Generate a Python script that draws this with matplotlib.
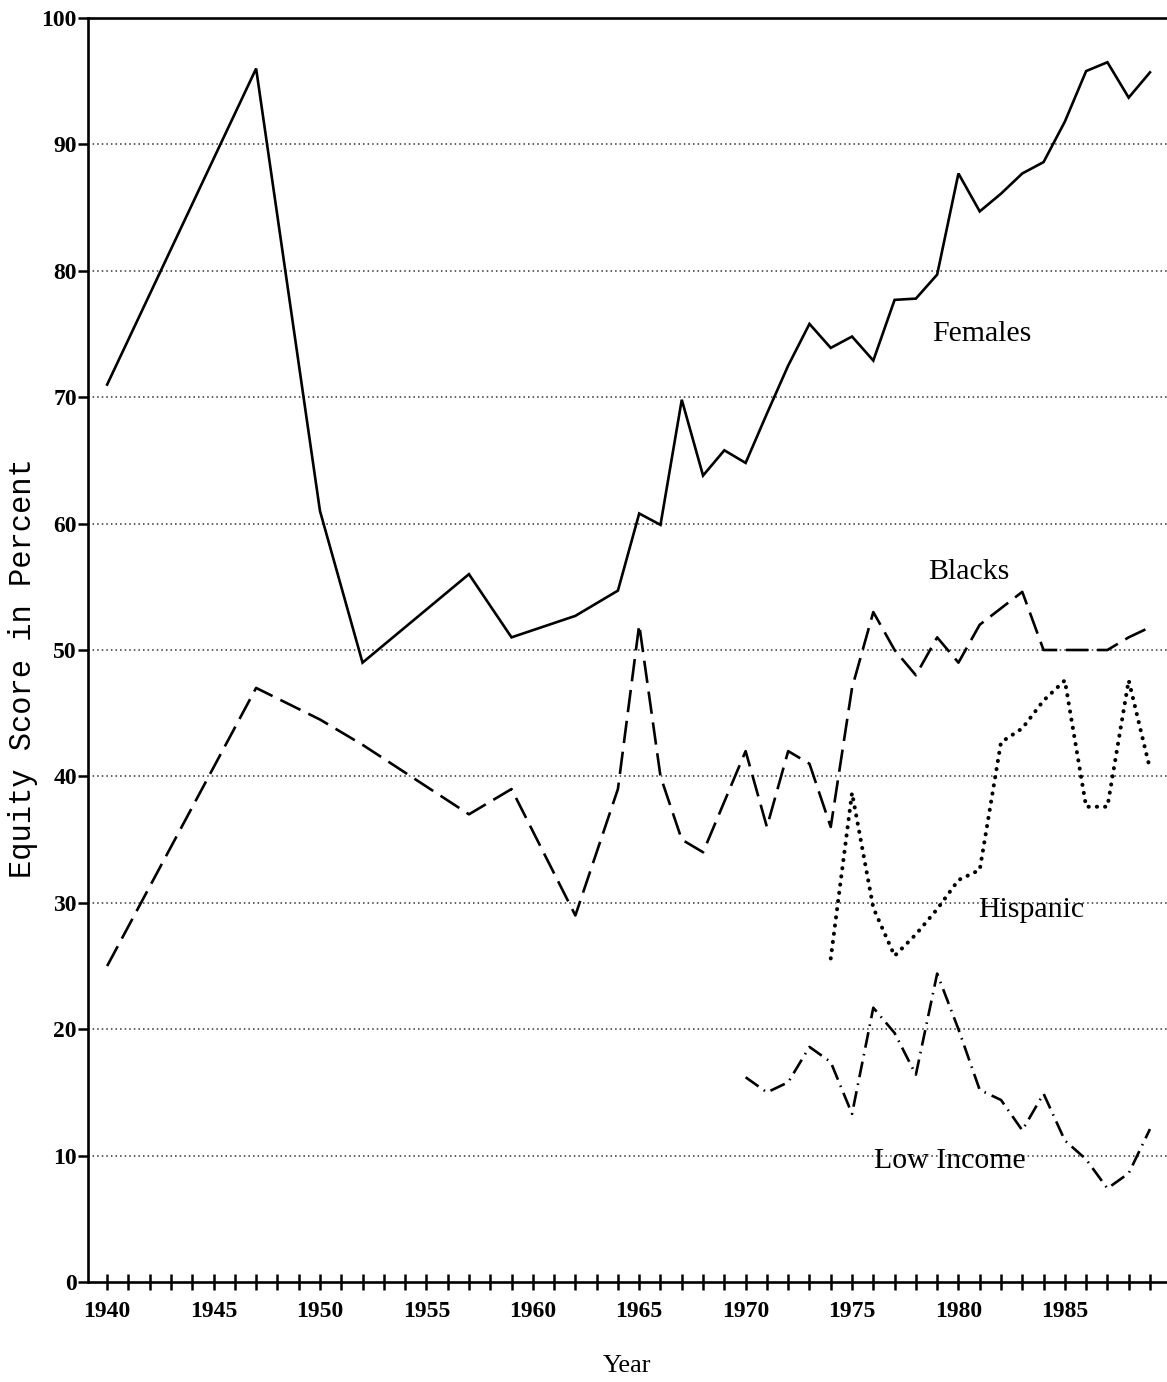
import matplotlib
matplotlib.use('Agg')
import matplotlib.pyplot as plt
from matplotlib.ticker import FixedLocator

# ---- data ----
years_females = [1940, 1947, 1950, 1952, 1957, 1959, 1962, 1964, 1965, 1966, 1967, 1968,
                 1969, 1970, 1971, 1972, 1973, 1974, 1975, 1976, 1977, 1978, 1979, 1980,
                 1981, 1982, 1983, 1984, 1985, 1986, 1987, 1988, 1989]
females = [71, 96, 61, 49, 56, 51, 52.7, 54.7, 60.8, 59.9, 69.8, 63.8,
           65.8, 64.8, 68.7, 72.5, 75.8, 73.9, 74.8, 72.9, 77.7, 77.8, 79.7, 87.7,
           84.7, 86.1, 87.7, 88.6, 91.8, 95.8, 96.5, 93.7, 95.7]

years_blacks = [1940, 1947, 1950, 1952, 1957, 1959, 1962, 1964, 1965, 1966, 1967, 1968,
                1969, 1970, 1971, 1972, 1973, 1974, 1975, 1976, 1977, 1978, 1979, 1980,
                1981, 1982, 1983, 1984, 1985, 1986, 1987, 1988, 1989]
blacks = [25, 47, 44.5, 42.5, 37, 39, 29, 39, 52, 40, 35, 34,
          38, 42, 36, 42, 41, 36, 47, 53, 50, 48, 51, 49,
          52, 53.3, 54.6, 50, 50, 50, 50, 51, 51.8]

years_hispanic = [1974, 1975, 1976, 1977, 1978, 1979, 1980, 1981, 1982, 1983, 1984,
                  1985, 1986, 1987, 1988, 1989]
hispanic = [25.6, 38.7, 29.6, 25.8, 27.5, 29.5, 31.8, 32.6, 42.7, 43.8, 46,
            47.6, 37.6, 37.6, 47.6, 40.6]

years_low = [1970, 1971, 1972, 1973, 1974, 1975, 1976, 1977, 1978, 1979, 1980,
             1981, 1982, 1983, 1984, 1985, 1986, 1987, 1988, 1989]
low_income = [16.2, 15, 15.8, 18.6, 17.4, 13.3, 21.7, 19.7, 16.4, 24.4, 20,
              15.2, 14.4, 12, 14.9, 11.2, 9.7, 7.4, 8.6, 12.1]

x_tick_labels = ['1940', '1945', '1950', '1955', '1960', '1965', '1970', '1975', '1980', '1985']
y_ticks = [0, 10, 20, 30, 40, 50, 60, 70, 80, 90, 100]
series_labels = ['Females', 'Blacks', 'Hispanic', 'Low Income']

# ---- figure ----
W, H = 1167, 1382
fig = plt.figure(figsize=(W / 100, H / 100), dpi=100)
left, right, top, bottom = 88, 1167, 18, 1282
ax = fig.add_axes([left / W, 1 - bottom / H, (right - left) / W, (bottom - top) / H])
ax.set_xlim(1939.1, 1989.8)
ax.set_ylim(0, 100)

lw = 1.9
ax.plot(years_females, females, color='black', lw=lw, solid_joinstyle='miter')
ax.plot(years_blacks, blacks, color='black', lw=lw, linestyle=(0, (8.5, 3.3)))
ax.plot(years_hispanic, hispanic, color='black', lw=2.9, linestyle=(0, (0.05, 2.0)),
        dash_capstyle='round')
ax.plot(years_low, low_income, color='black', lw=lw, linestyle=(0, (6.0, 2.4, 0.6, 2.4)))

# dotted gridlines
for yv in y_ticks[1:-1]:
    ax.axhline(yv, color='#333333', lw=1.1, linestyle=(0, (1, 2.0)), zorder=0)

# spines
for s in ['left', 'top', 'bottom']:
    ax.spines[s].set_linewidth(1.9)
ax.spines['right'].set_visible(False)

tick_font = dict(family=['Liberation Serif', 'DejaVu Serif'], weight='bold', size=17)
ax.set_xticks([int(t) for t in x_tick_labels])
ax.set_xticklabels(x_tick_labels, fontdict=tick_font)
ax.xaxis.set_minor_locator(FixedLocator(list(range(1940, 1990))))
ax.tick_params(axis='x', which='both', direction='inout', length=12, width=1.8, pad=8)
ax.set_yticks(y_ticks)
ax.set_yticklabels([str(v) for v in y_ticks], fontdict=tick_font)
ax.tick_params(axis='y', which='major', direction='out', length=7, width=1.8, pad=1)
ax.tick_params(top=False, right=False)

ax.set_ylabel('Equity Score in Percent', family=['Liberation Mono', 'DejaVu Sans Mono'],
              fontsize=22)
ax.yaxis.set_label_coords(-0.0463, 0.486)
ax.set_xlabel('Year', family=['Liberation Serif', 'DejaVu Serif'], fontsize=19)
ax.xaxis.set_label_coords(0.5, -0.058)

lab_font = dict(family=['Liberation Serif', 'DejaVu Serif'], fontsize=21.5, color='black',
                ha='center', va='center')
label_pos = [(1981.1, 75.0), (1980.5, 56.2), (1983.4, 29.4), (1979.6, 9.6)]
for txt, (lx, ly) in zip(series_labels, label_pos):
    ax.text(lx, ly, txt, **lab_font)

fig.savefig('out.png', dpi=100)
